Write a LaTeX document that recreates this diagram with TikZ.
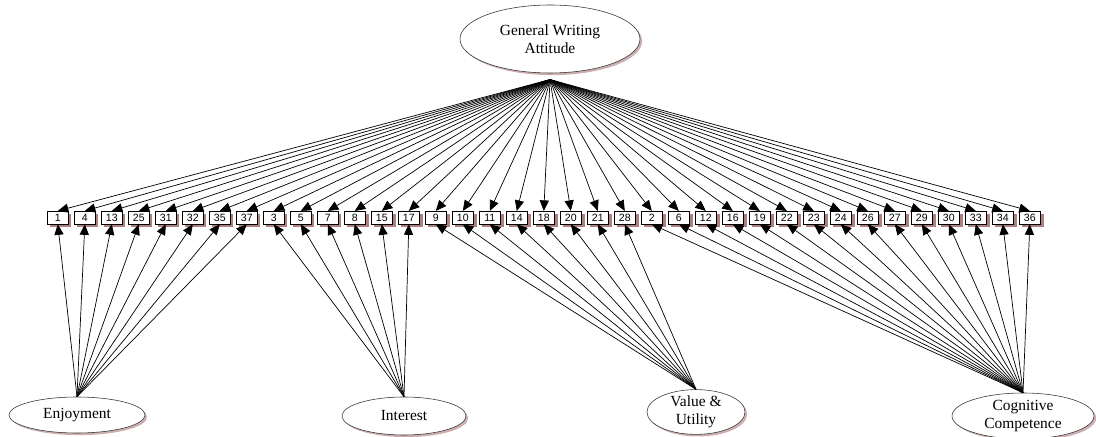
\documentclass[tikz,border=0pt]{standalone}
\usepackage{fontspec}
\setmainfont{Liberation Serif}
\setsansfont{Liberation Sans}
\usetikzlibrary{arrows.meta, shapes.geometric, shadows}
\definecolor{boxshade}{RGB}{175,128,128}
\definecolor{ellshade}{RGB}{205,175,175}

\begin{document}
\begin{tikzpicture}[
    factor/.style={ellipse,draw=black!80,fill=white,inner sep=0pt,align=center,
                   font=\fontsize{11}{12.5}\selectfont,
                   drop shadow={shadow xshift=1.5pt,shadow yshift=-1.5pt,fill=ellshade,opacity=1}},
    item/.style={draw,fill=white,minimum width=0.53cm,minimum height=0.32cm,inner sep=0pt,
                 font=\sffamily\fontsize{7.5}{8}\selectfont,
                 drop shadow={shadow xshift=2.2pt,shadow yshift=-2.2pt,fill=boxshade,opacity=1}},
    arr/.style={-{Triangle[length=7.5pt,width=6.5pt]},line width=0.5pt}
]
  \useasboundingbox (0,0) rectangle (27.4,-10.925);

  % Factors
  \node[factor,minimum width=4.5cm,minimum height=1.7cm] (gwa) at (13.75,-0.975) {General Writing\\Attitude};
  \node[factor,minimum width=3.4cm,minimum height=0.9cm] (enj) at (1.925,-10.375) {Enjoyment};
  \node[factor,minimum width=3.1cm,minimum height=0.95cm] (int) at (10.1,-10.4) {Interest};
  \node[factor,minimum width=2.45cm,minimum height=1.1cm] (val) at (17.4,-10.3) {Value \&\\Utility};
  \node[factor,minimum width=3.55cm,minimum height=1.15cm] (cog) at (25.575,-10.4) {Cognitive\\Competence};
  \coordinate (gtip) at ([yshift=-4.5pt]gwa.south);

  % Items
  \foreach \n [count=\i] in {1,4,13,25,31,32,35,37,3,5,7,8,15,17,9,10,11,14,18,20,21,28,
                             2,6,12,16,19,22,23,24,26,27,29,30,33,34,36}
    \node[item] (b\n) at ({1.445+0.675*(\i-1)},-5.44) {\n};

  % General factor to all items
  \foreach \n in {1,4,13,25,31,32,35,37,3,5,7,8,15,17,9,10,11,14,18,20,21,28,
                  2,6,12,16,19,22,23,24,26,27,29,30,33,34,36}
    \draw[arr] (gtip) -- (b\n.north);

  % Specific factors
  \foreach \n in {1,4,13,25,31,32,35,37}
    \draw[arr] (enj.north) -- (b\n.south);
  \foreach \n in {3,5,7,8,15,17}
    \draw[arr] (int.north) -- (b\n.south);
  \foreach \n in {9,10,11,14,18,20,21,28}
    \draw[arr] (val.north) -- (b\n.south);
  \foreach \n in {2,6,12,16,19,22,23,24,26,27,29,30,33,34,36}
    \draw[arr] (cog.north) -- (b\n.south);
\end{tikzpicture}
\end{document}
